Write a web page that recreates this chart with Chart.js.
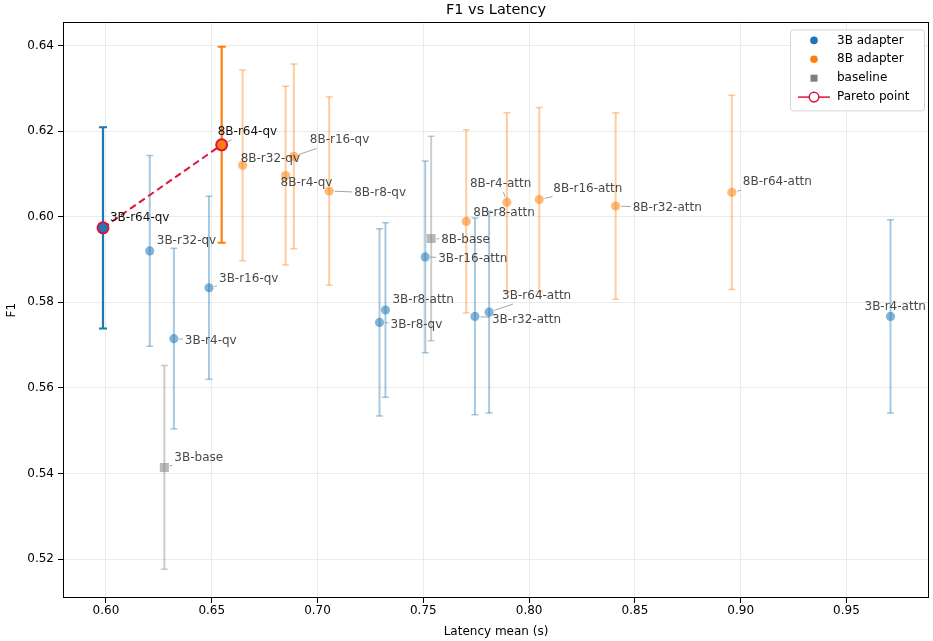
<!DOCTYPE html>
<html>
<head>
<meta charset="utf-8">
<script src="https://cdn.jsdelivr.net/npm/chart.js@4.4.0/dist/chart.umd.min.js"></script>
<style>
  html, body { margin: 0; padding: 0; background: #fff; }
</style>
</head>
<body>
<canvas id="f1_latency" width="933" height="641"></canvas>
<script>
// LoRA runs: name, mean latency (s), mean F1, F1 std
const names3B = ["3B-r64-qv", "3B-r32-qv", "3B-r4-qv", "3B-r16-qv", "3B-r8-qv",
                 "3B-r8-attn", "3B-r16-attn", "3B-r32-attn", "3B-r64-attn", "3B-r4-attn"];
const latency3B = [0.5986, 0.6207, 0.6321, 0.6487, 0.7293, 0.7321, 0.7509, 0.7744, 0.7811, 0.9708];
const f1_3B = [0.5974, 0.5920, 0.5715, 0.5834, 0.5753, 0.5782, 0.5906, 0.5767, 0.5777, 0.5767];
const std3B = [0.0235, 0.0223, 0.0211, 0.0214, 0.0219, 0.0204, 0.0224, 0.0230, 0.0236, 0.0226];

const names8B = ["8B-r64-qv", "8B-r32-qv", "8B-r4-qv", "8B-r16-qv", "8B-r8-qv",
                 "8B-r8-attn", "8B-r4-attn", "8B-r16-attn", "8B-r32-attn", "8B-r64-attn"];
const latency8B = [0.6547, 0.6646, 0.6849, 0.6888, 0.7055, 0.7703, 0.7895, 0.8048, 0.8409, 0.8958];
const f1_8B = [0.6168, 0.6120, 0.6096, 0.6141, 0.6060, 0.5989, 0.6034, 0.6040, 0.6025, 0.6057];
const std8B = [0.0229, 0.0223, 0.0209, 0.0216, 0.0220, 0.0214, 0.0209, 0.0215, 0.0218, 0.0227];

const namesBase = ["3B-base", "8B-base"];
const latencyBase = [0.6276, 0.7537];
const f1Base = [0.5414, 0.5949];
const stdBase = [0.0238, 0.0239];

const paretoNames = ["3B-r64-qv", "8B-r64-qv"];

const xTicks = [0.60, 0.65, 0.70, 0.75, 0.80, 0.85, 0.90, 0.95];
const yTicks = [0.52, 0.54, 0.56, 0.58, 0.60, 0.62, 0.64];

// text placement relative to the marker (px): left edge, vertical middle
const labelNudge = {
  "3B-r64-qv": [7, -10], "3B-r32-qv": [7, -10], "3B-r4-qv": [11, 2], "3B-r16-qv": [10, -9],
  "3B-r8-qv": [11, 2], "3B-r8-attn": [7, -10], "3B-r16-attn": [13, 2], "3B-r32-attn": [17, 3],
  "3B-r64-attn": [13, -16], "3B-r4-attn": [-26, -10],
  "8B-r64-qv": [-4, -13], "8B-r32-qv": [-2, -6], "8B-r4-qv": [-5, 7], "8B-r16-qv": [16, -16],
  "8B-r8-qv": [25, 2], "8B-r8-attn": [7, -9], "8B-r4-attn": [-37, -18], "8B-r16-attn": [14, -11],
  "8B-r32-attn": [17, 2], "8B-r64-attn": [11, -10],
  "3B-base": [10, -10], "8B-base": [10, 1]
};

const BLUE = "31,119,180", ORANGE = "255,127,14", GRAY = "127,127,127";
const CRIMSON = "#dc143c";

function toPoints(xs, ys) {
  return xs.map((x, i) => ({ x: x, y: ys[i] }));
}

function isPareto(ctx) {
  const ds = ctx.dataset;
  return ds.names ? paretoNames.includes(ds.names[ctx.dataIndex]) : false;
}

// endpoints of the Pareto front, looked up from the run tables
const allNames = names3B.concat(names8B);
const allLat = latency3B.concat(latency8B);
const allF1 = f1_3B.concat(f1_8B);
const paretoPoints = paretoNames.map(n => {
  const i = allNames.indexOf(n);
  return { x: allLat[i], y: allF1[i] };
});

function seriesDataset(label, rgb, names, lat, f1, std, style) {
  return {
    label: label,
    rgb: rgb,
    names: names,
    errors: std,
    data: toPoints(lat, f1),
    pointStyle: style,
    pointRadius: ctx => isPareto(ctx) ? 5.5 : (style === "rect" ? 6.4 : 4.6),
    backgroundColor: ctx => isPareto(ctx) ? "rgb(" + rgb + ")" : "rgba(" + rgb + ",0.55)",
    borderColor: ctx => isPareto(ctx) ? CRIMSON : "rgba(0,0,0,0)",
    borderWidth: ctx => isPareto(ctx) ? 2 : 0
  };
}

// vertical F1 std bars with caps, under the markers
const errorBars = {
  id: "errorBars",
  beforeDatasetsDraw(chart) {
    const { ctx, scales: { x, y } } = chart;
    ctx.save();
    chart.data.datasets.forEach(ds => {
      if (!ds.errors) return;
      ds.data.forEach((p, i) => {
        const strong = paretoNames.includes(ds.names[i]);
        const px = x.getPixelForValue(p.x);
        const top = y.getPixelForValue(p.y + ds.errors[i]);
        const bot = y.getPixelForValue(p.y - ds.errors[i]);
        ctx.strokeStyle = strong ? "rgb(" + ds.rgb + ")" : "rgba(" + ds.rgb + ",0.4)";
        ctx.lineWidth = strong ? 2.2 : 2;
        ctx.beginPath();
        ctx.moveTo(px, top);
        ctx.lineTo(px, bot);
        ctx.stroke();
        const cap = strong ? 4 : 3.5;
        ctx.lineWidth = strong ? 2 : 1.5;
        ctx.beginPath();
        ctx.moveTo(px - cap, top); ctx.lineTo(px + cap, top);
        ctx.moveTo(px - cap, bot); ctx.lineTo(px + cap, bot);
        ctx.stroke();
      });
    });
    ctx.restore();
  }
};

// distance along the ray (px,py)+t*(ux,uy) to where it enters the box
function rayToBox(px, py, ux, uy, box, fallback) {
  let best = fallback;
  const edges = [];
  if (ux > 0) edges.push({ t: (box.x0 - px) / ux, axis: "x" });
  if (ux < 0) edges.push({ t: (box.x1 - px) / ux, axis: "x" });
  if (uy > 0) edges.push({ t: (box.y0 - py) / uy, axis: "y" });
  if (uy < 0) edges.push({ t: (box.y1 - py) / uy, axis: "y" });
  edges.forEach(e => {
    if (e.t < 0) return;
    const hx = px + ux * e.t, hy = py + uy * e.t;
    const ok = e.axis === "x" ? (hy >= box.y0 && hy <= box.y1) : (hx >= box.x0 && hx <= box.x1);
    if (ok && e.t < best) best = e.t;
  });
  return best;
}

// run names next to each marker, with a thin leader when the text sits away
const runLabels = {
  id: "runLabels",
  afterDatasetsDraw(chart) {
    const { ctx, scales: { x, y }, chartArea } = chart;
    ctx.save();
    ctx.font = '12px "DejaVu Sans"';
    ctx.textBaseline = "middle";
    ctx.textAlign = "left";
    chart.data.datasets.forEach(ds => {
      if (!ds.names) return;
      ds.data.forEach((p, i) => {
        const name = ds.names[i];
        const nudge = labelNudge[name] || [8, -8];
        const px = x.getPixelForValue(p.x);
        const py = y.getPixelForValue(p.y);
        const tx = px + nudge[0], ty = py + nudge[1];
        const w = ctx.measureText(name).width;
        const box = { x0: tx - 2, x1: tx + w + 2, y0: ty - 8, y1: ty + 8 };
        const inside = px >= box.x0 && px <= box.x1 && py >= box.y0 && py <= box.y1;
        if (!inside) {
          const dx = tx + w / 2 - px, dy = ty - py;
          const len = Math.hypot(dx, dy);
          const ux = dx / len, uy = dy / len;
          const tHit = rayToBox(px, py, ux, uy, box, len);
          const tStart = 5.5;
          if (tHit - tStart > 2.5) {
            ctx.strokeStyle = "rgba(128,128,128,0.8)";
            ctx.lineWidth = 0.9;
            ctx.beginPath();
            ctx.moveTo(px + ux * tStart, py + uy * tStart);
            ctx.lineTo(px + ux * tHit, py + uy * tHit);
            ctx.stroke();
          }
        }
        ctx.fillStyle = paretoNames.includes(name) ? "#111" : "rgba(40,40,40,0.85)";
        ctx.fillText(name, tx, ty);
      });
    });
    // axes frame
    ctx.strokeStyle = "#000";
    ctx.lineWidth = 1;
    ctx.strokeRect(Math.round(chartArea.left) + 0.5, Math.round(chartArea.top) + 0.5,
      Math.round(chartArea.right - chartArea.left) - 1, Math.round(chartArea.bottom - chartArea.top) - 1);
    ctx.restore();
  }
};

// boxed legend in the upper right corner of the axes
const cornerLegend = {
  id: "cornerLegend",
  afterDraw(chart) {
    const { ctx, chartArea } = chart;
    const right = chartArea.right - 5, top = chartArea.top + 7;
    const width = 134, height = 81, left = right - width;
    ctx.save();
    ctx.fillStyle = "rgba(255,255,255,0.85)";
    ctx.strokeStyle = "#d6d6d6";
    ctx.lineWidth = 1;
    ctx.beginPath();
    ctx.roundRect(left + 0.5, top + 0.5, width, height, 3);
    ctx.fill();
    ctx.stroke();
    const items = [
      { text: chart.data.datasets[0].label, kind: "dot", color: "rgb(" + BLUE + ")" },
      { text: chart.data.datasets[1].label, kind: "dot", color: "rgb(" + ORANGE + ")" },
      { text: chart.data.datasets[2].label, kind: "square", color: "rgb(" + GRAY + ")" },
      { text: chart.data.datasets[3].label, kind: "pareto", color: CRIMSON }
    ];
    ctx.font = '12px "DejaVu Sans"';
    ctx.textBaseline = "middle";
    ctx.textAlign = "left";
    items.forEach((it, k) => {
      const my = top + 11 + k * 18.9;
      const mx = left + 24;
      if (it.kind === "dot") {
        ctx.fillStyle = it.color;
        ctx.beginPath(); ctx.arc(mx, my, 3.8, 0, Math.PI * 2); ctx.fill();
      } else if (it.kind === "square") {
        ctx.fillStyle = it.color;
        ctx.fillRect(mx - 3.5, my - 3.5, 7, 7);
      } else {
        ctx.strokeStyle = it.color;
        ctx.lineWidth = 1.5;
        ctx.beginPath(); ctx.moveTo(mx - 16, my); ctx.lineTo(mx + 16, my); ctx.stroke();
        ctx.fillStyle = "#fff";
        ctx.beginPath(); ctx.arc(mx, my, 4.8, 0, Math.PI * 2); ctx.fill(); ctx.stroke();
      }
      ctx.fillStyle = "#000";
      ctx.fillText(it.text, left + 47, my);
    });
    ctx.restore();
  }
};

Chart.defaults.font.family = '"DejaVu Sans", sans-serif';
Chart.defaults.color = "#000";

const chart = new Chart(document.getElementById("f1_latency").getContext("2d"), {
  type: "scatter",
  data: {
    datasets: [
      seriesDataset("3B adapter", BLUE, names3B, latency3B, f1_3B, std3B, "circle"),
      seriesDataset("8B adapter", ORANGE, names8B, latency8B, f1_8B, std8B, "circle"),
      seriesDataset("baseline", GRAY, namesBase, latencyBase, f1Base, stdBase, "rect"),
      {
        label: "Pareto point",
        data: paretoPoints,
        showLine: true,
        borderColor: CRIMSON,
        borderWidth: 2,
        borderDash: [7, 4],
        pointRadius: 0,
        fill: false
      }
    ]
  },
  options: {
    responsive: false,
    animation: false,
    events: [],
    layout: { autoPadding: false, padding: { left: 0, right: 4, top: 0, bottom: 0 } },
    plugins: {
      legend: { display: false },
      tooltip: { enabled: false },
      title: {
        display: true,
        fullSize: false,
        text: "F1 vs Latency",
        font: { size: 14.5, weight: "normal" },
        color: "#000",
        padding: { top: 2, bottom: 3 }
      }
    },
    scales: {
      x: {
        type: "linear",
        min: 0.5797,
        max: 0.989,
        afterBuildTicks: s => { s.ticks = xTicks.map(v => ({ value: v })); },
        afterFit: s => { s.height = 43; s.paddingLeft = 0; s.paddingRight = 0; },
        ticks: { callback: v => v.toFixed(2), font: { size: 12 }, color: "#000", padding: 1, maxRotation: 0 },
        grid: { color: "#ebebeb", lineWidth: 1, tickColor: "#000", tickLength: 5 },
        border: { display: false },
        title: { display: true, text: "Latency mean (s)", font: { size: 12 }, color: "#000", padding: { top: 0, bottom: 2 } }
      },
      y: {
        type: "linear",
        min: 0.5109,
        max: 0.6454,
        afterBuildTicks: s => { s.ticks = yTicks.map(v => ({ value: v })); },
        afterFit: s => { s.width = 63; s.paddingTop = 0; s.paddingBottom = 0; },
        ticks: { callback: v => v.toFixed(2), font: { size: 12 }, color: "#000", padding: 4 },
        grid: { color: "#ebebeb", lineWidth: 1, tickColor: "#000", tickLength: 5 },
        border: { display: false },
        title: { display: true, text: "F1", font: { size: 12 }, color: "#000", padding: { top: 5, bottom: 0 } }
      }
    }
  },
  plugins: [errorBars, runLabels, cornerLegend]
});
</script>
</body>
</html>
